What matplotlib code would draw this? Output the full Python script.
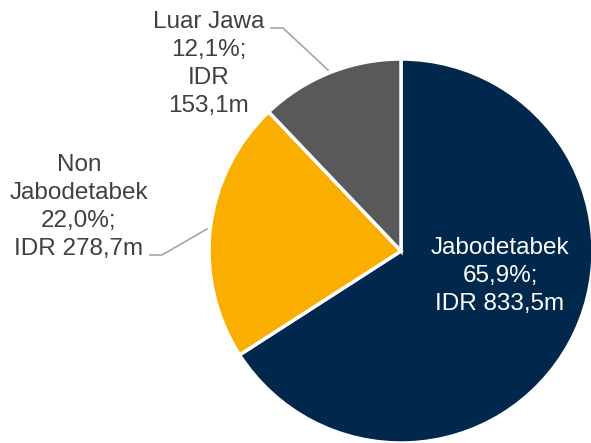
import matplotlib
matplotlib.use("Agg")
import matplotlib.pyplot as plt

# data
regions = ["Jabodetabek", "Non Jabodetabek", "Luar Jawa"]
shares = [65.9, 22.0, 12.1]
amounts = ["833,5m", "278,7m", "153,1m"]
colors = ["#00284C", "#F9AE00", "#595959"]

W, H = 591, 443
fig = plt.figure(figsize=(W / 100, H / 100), dpi=100)
ax = fig.add_axes([0, 0, 1, 1])

cx, cy, r = 401, 251, 192
# y axis is inverted, so counterclock=True draws clockwise on screen
ax.pie(shares, colors=colors, startangle=-90, counterclock=True,
       center=(cx, cy), radius=r, frame=True,
       wedgeprops=dict(edgecolor="white", linewidth=2.5))
ax.set_xlim(0, W)
ax.set_ylim(H, 0)
ax.set_aspect("equal")
ax.axis("off")

font = dict(family=["Liberation Sans", "DejaVu Sans"], fontsize=17.5, linespacing=1.34)
grey_txt = "#404040"
line_c = "#A6A6A6"

def pct(v):
    return f"{v:.1f}".replace(".", ",") + "%;"

ax.text(500, 276, f"{regions[0]}\n{pct(shares[0])}\nIDR {amounts[0]}",
        ha="center", va="center", color="white", **font)
ax.text(79, 207, "Non\nJabodetabek\n" + f"{pct(shares[1])}\nIDR {amounts[1]}",
        ha="center", va="center", color=grey_txt, **font)
ax.text(209, 64, f"{regions[2]}\n{pct(shares[2])}\nIDR\n{amounts[2]}",
        ha="center", va="center", color=grey_txt, **font)

# leader lines
ax.plot([271, 283, 328], [28, 28, 70], color=line_c, lw=1.2)
ax.plot([150, 162, 207], [255, 255, 229], color=line_c, lw=1.2)

fig.savefig("out.png", dpi=100)
